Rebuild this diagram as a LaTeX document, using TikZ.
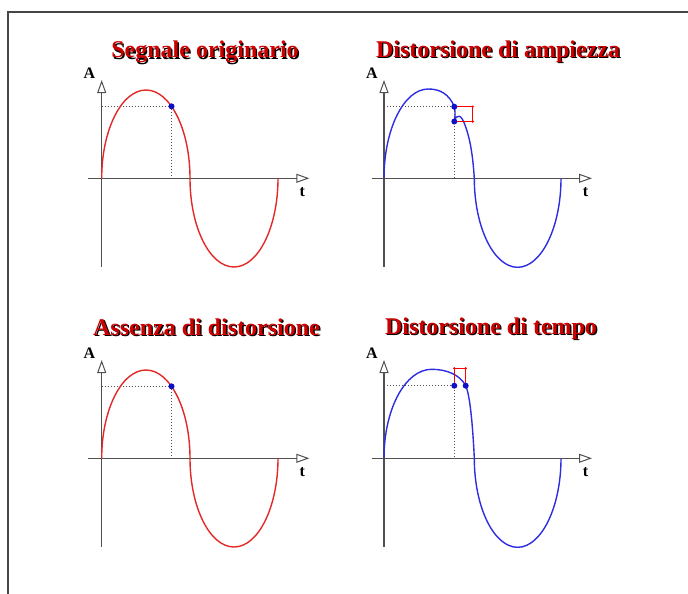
\documentclass[tikz,border=0pt]{standalone}
\usepackage{fontspec}
\setmainfont{Liberation Serif}
\usepackage{xcolor}
\usetikzlibrary{arrows.meta, positioning, calc}
\definecolor{sigred}{RGB}{228, 40, 40}
\definecolor{sigblue}{RGB}{45, 45, 225}
\definecolor{dotblue}{RGB}{15, 15, 200}
\definecolor{titlered}{RGB}{205, 0, 0}
\definecolor{axisgray}{RGB}{80, 80, 80}
\definecolor{framegray}{RGB}{70, 70, 70}

\begin{document}
\begin{tikzpicture}[
		x=1pt, y=-1pt,
		axis/.style={draw=axisgray, line width=1.4pt, -{Triangle[open, length=13pt, width=9pt, line width=1pt]}},
		guide/.style={draw=axisgray, dotted, line width=1pt},
		signal/.style={line width=1.4pt},
		bracket/.style={draw=red, line width=1pt},
		bluedot/.style={circle, fill=dotblue, inner sep=0pt, minimum size=6pt},
		reddot/.style={circle, fill=red, inner sep=0pt, minimum size=2.6pt},
		title/.style={font=\fontsize{24}{28}\selectfont\bfseries, text=titlered, anchor=base, inner sep=0pt},
		titleshadow/.style={title, text=black},
		axislabel/.style={font=\fontsize{16}{18}\selectfont\bfseries, anchor=base, inner sep=0pt}
	]
	\useasboundingbox (0,0) rectangle (688,594);

	% frame
	\draw[framegray, line width=1.2pt] (688,12) -- (8,12) -- (8,594);

	% 1. Segnale originario
	\node[titleshadow] (shadow1) at (206.4,59.4) {Segnale originario};
	\node[title] (title1) at (205,58) {Segnale originario};
	\coordinate (o1) at (101.7,178.3);
	\coordinate (v1) at (101.7,80);
	\coordinate (h1) at (309.3,178.3);
	\draw[axis] (101.7,267) -- (v1);
	\draw[axis] (88,178.3) -- (h1);
	\node[axislabel] (A1) at (89.5,78.5) {A};
	\node[axislabel] (t1) at (302.3,196) {t};
	\draw[signal, sigred] (o1) .. controls (101.7,129.7) and (121.7,90) .. (146,90)
		.. controls (170.3,90) and (190,129.7) .. (190,178.3)
		.. controls (190,227) and (209.7,267) .. (234,267)
		.. controls (258.3,267) and (278,227) .. (278,178.3);
	\coordinate (p1) at (171.5,106.3);
	\draw[guide] (o1 |- p1) -- (p1) -- (p1 |- o1);
	\node[bluedot] (dot1) at (p1) {};

	% 2. Distorsione di ampiezza
	\node[titleshadow] (shadow2) at (499.4,58.9) {Distorsione di ampiezza};
	\node[title] (title2) at (498,57.5) {Distorsione di ampiezza};
	\coordinate (o2) at (384,178.3);
	\coordinate (v2) at (384,80);
	\coordinate (h2) at (592,178.3);
	\draw[axis] (384,267) -- (v2);
	\draw[axis] (371.7,178.3) -- (h2);
	\node[axislabel] (A2) at (372,78.5) {A};
	\node[axislabel] (t2) at (585.5,196) {t};
	\coordinate (p2a) at (454.3,106.7);
	\coordinate (p2b) at (454.3,121.5);
	\draw[signal, sigblue] (o2) .. controls (384,129) and (404,89) .. (428.3,89)
		.. controls (440,89) and (449,94) .. (p2a)
		.. controls (455.3,111) and (455.3,117) .. (p2b)
		.. controls (455.5,117.5) and (457,115.5) .. (459.3,116.3)
		.. controls (461.5,117) and (463,120) .. (465,125)
		.. controls (469,136) and (472.5,150) .. (474.3,178.3)
		.. controls (474.3,227) and (493.8,267.3) .. (517.6,267.3)
		.. controls (541.4,267.3) and (561,227) .. (561,178.3);
	\draw[guide] (o2 |- p2a) -- (p2a) -- (p2a |- o2);
	\coordinate (c2a) at (472.7,106.7);
	\coordinate (c2b) at (472.7,121.5);
	\draw[bracket] (p2a) -- (c2a) -- (c2b) -- (p2b);
	\node[reddot] (r2a) at (c2a) {};
	\node[reddot] (r2b) at (c2b) {};
	\node[bluedot] (dot2a) at (p2a) {};
	\node[bluedot] (dot2b) at (p2b) {};

	% 3. Assenza di distorsione
	\node[titleshadow] (shadow3) at (207.9,336.4) {Assenza di distorsione};
	\node[title] (title3) at (206.5,335) {Assenza di distorsione};
	\coordinate (o3) at (101.7,458.3);
	\coordinate (v3) at (101.7,360);
	\coordinate (h3) at (309.3,458.3);
	\draw[axis] (101.7,547) -- (v3);
	\draw[axis] (88,458.3) -- (h3);
	\node[axislabel] (A3) at (89.5,358.5) {A};
	\node[axislabel] (t3) at (302.3,476) {t};
	\draw[signal, sigred] (o3) .. controls (101.7,409.7) and (121.7,370) .. (146,370)
		.. controls (170.3,370) and (190,409.7) .. (190,458.3)
		.. controls (190,507) and (209.7,547) .. (234,547)
		.. controls (258.3,547) and (278,507) .. (278,458.3);
	\coordinate (p3) at (171.5,386.3);
	\draw[guide] (o3 |- p3) -- (p3) -- (p3 |- o3);
	\node[bluedot] (dot3) at (p3) {};

	% 4. Distorsione di tempo
	\node[titleshadow] (shadow4) at (492.4,335.9) {Distorsione di tempo};
	\node[title] (title4) at (491,334.5) {Distorsione di tempo};
	\coordinate (o4) at (384,458.3);
	\coordinate (v4) at (384,360);
	\coordinate (h4) at (592,458.3);
	\draw[axis] (384,547) -- (v4);
	\draw[axis] (371.7,458.3) -- (h4);
	\node[axislabel] (A4) at (372,358.5) {A};
	\node[axislabel] (t4) at (585.5,476) {t};
	\coordinate (p4a) at (454.3,385.7);
	\coordinate (p4b) at (465.7,385.7);
	\draw[signal, sigblue] (o4) .. controls (384,409) and (405.3,369.3) .. (431.7,369.3)
		.. controls (447,369.3) and (460,375) .. (p4b)
		.. controls (469.5,394) and (472.5,420) .. (474.3,458.3)
		.. controls (474.3,507) and (493.8,547.3) .. (517.6,547.3)
		.. controls (541.4,547.3) and (561,507) .. (561,458.3);
	\draw[guide] (o4 |- p4a) -- (p4a) -- (p4a |- o4);
	\coordinate (c4a) at (454.3,368.3);
	\coordinate (c4b) at (465.7,368.3);
	\draw[bracket] (p4a) -- (c4a) -- (c4b) -- (p4b);
	\node[reddot] (r4a) at (c4a) {};
	\node[reddot] (r4b) at (c4b) {};
	\node[bluedot] (dot4a) at (p4a) {};
	\node[bluedot] (dot4b) at (p4b) {};

\end{tikzpicture}
\end{document}
